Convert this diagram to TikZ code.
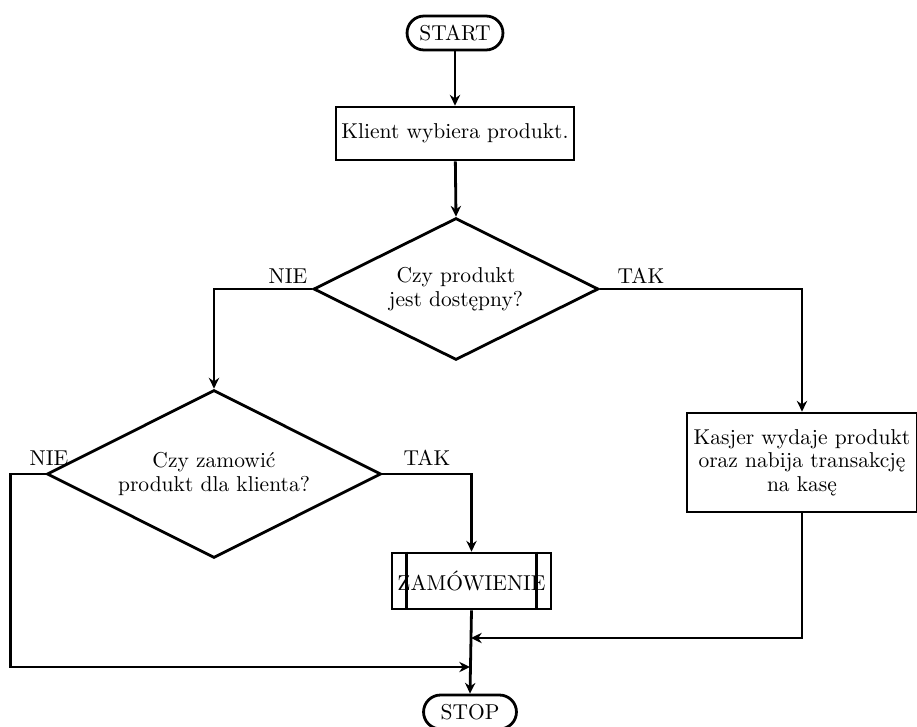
\documentclass[tikz,border=0pt]{standalone}
\usepackage{fontspec}
\usetikzlibrary{shapes.geometric,arrows.meta}
\begin{document}
\begin{tikzpicture}[x=0.465pt,y=-0.465pt,
  line width=1.3pt,
  font=\fontsize{10}{11}\selectfont,
  arr/.style={-{Stealth[length=5pt,width=4.8pt]}},
  term/.style={draw, rectangle, rounded corners=7.9pt, minimum height=15.8pt, inner sep=0pt},
  proc/.style={draw, rectangle, inner sep=0pt, align=center},
  dec/.style={draw, diamond, aspect=2, inner sep=0pt, align=center},
  lab/.style={inner sep=0pt}]
\useasboundingbox (0,0) rectangle (917,727);
\node[term, minimum width=44.6pt] (start) at (455,33) {START};
\node[proc, minimum width=110.7pt, minimum height=24.6pt] (klient) at (455,133.5) {Klient wybiera produkt.};
\node[dec, minimum width=132.5pt, minimum height=66pt] (d1) at (456,289) {\raisebox{-2pt}{\parbox{80pt}{\centering Czy produkt\\jest dostępny?}}};
\node[dec, minimum width=155.3pt, minimum height=78.1pt] (d2) at (214,474) {\raisebox{-2pt}{\parbox{100pt}{\centering Czy zamowić\\produkt dla klienta?}}};
\node[proc, minimum width=107pt, minimum height=46pt] (kas) at (802,462.5) {Kasjer wydaje produkt\\oraz nabija transakcję\\na kasę};
\node[proc, minimum width=73.9pt, minimum height=26pt] (zam) at (471.5,581) {ZAMÓWIENIE};
\draw ([xshift=7.44pt]zam.north west) -- ([xshift=7.44pt]zam.south west);
\draw ([xshift=-7.44pt]zam.north east) -- ([xshift=-7.44pt]zam.south east);
\node[term, minimum width=43.2pt] (stop) at (470,712) {STOP};
\node[lab] (nie1) at (288,276) {NIE};
\node[lab] (tak1) at (641,276) {TAK};
\node[lab] (nie2) at (49,458) {NIE};
\node[lab] (tak2) at (427,458) {TAK};
\coordinate (j1) at (471,638);
\coordinate (j2) at (470,667);
\draw[arr] (start) -- (klient);
\draw[arr] (klient) -- (d1.north);
\draw[arr] (d1.west) -| (d2.north);
\draw[arr] (d1.east) -| (kas.north);
\draw[arr] (d2.east) -| (zam.north);
\draw[arr] (zam.south) -- (stop.north);
\draw[arr] (kas.south) |- (j1);
\draw[arr] (d2.west) -- ++(-35,0) |- (j2);
\end{tikzpicture}
\end{document}
